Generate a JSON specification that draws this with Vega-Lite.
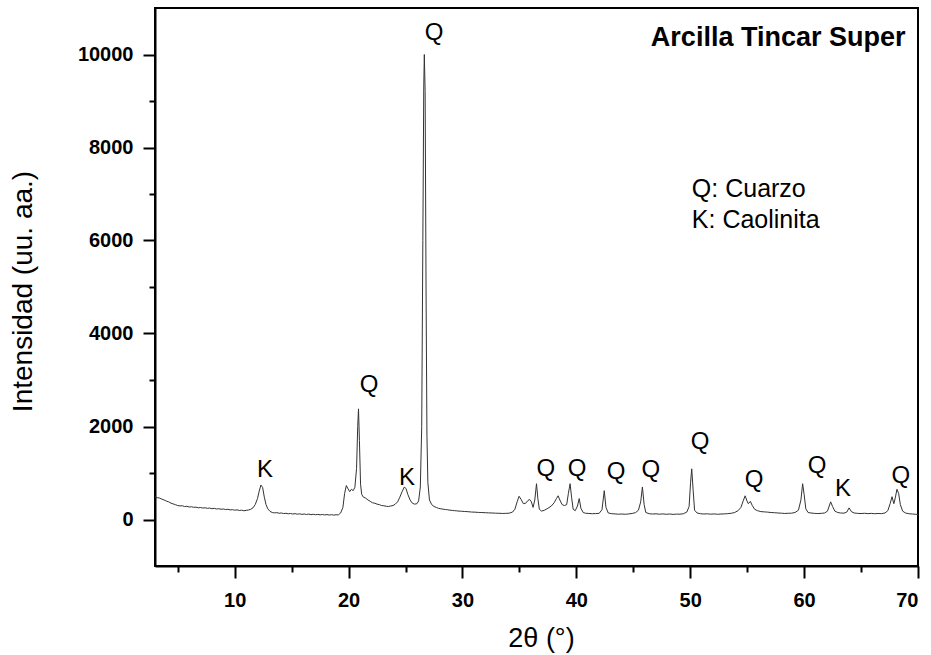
{
  "$schema": "https://vega.github.io/schema/vega-lite/v6.json",
  "width": 763,
  "height": 558,
  "autosize": {"type": "none"},
  "padding": {"left": 155, "top": 8, "right": 13, "bottom": 89},
  "background": "white",
  "config": {
    "view": {"stroke": "black", "strokeWidth": 2},
    "font": "Liberation Sans",
    "axis": {
      "grid": false,
      "domainColor": "black",
      "domainWidth": 2,
      "tickColor": "black",
      "tickWidth": 2,
      "labelFont": "Liberation Sans",
      "labelFontWeight": "bold",
      "labelFontSize": 20,
      "labelColor": "black",
      "titleFont": "Liberation Sans",
      "titleFontWeight": "normal",
      "titleFontSize": 28,
      "titleColor": "black"
    }
  },
  "datasets": {
    "xrd": [
      {"theta": 3.0, "intensity": 485}, {"theta": 3.2, "intensity": 470}, {"theta": 3.4, "intensity": 462}, {"theta": 3.6, "intensity": 438},
      {"theta": 3.8, "intensity": 420}, {"theta": 4.0, "intensity": 395}, {"theta": 4.2, "intensity": 380}, {"theta": 4.4, "intensity": 352},
      {"theta": 4.6, "intensity": 335}, {"theta": 4.8, "intensity": 318}, {"theta": 5.0, "intensity": 300}, {"theta": 5.2, "intensity": 292},
      {"theta": 5.4, "intensity": 296}, {"theta": 5.6, "intensity": 278}, {"theta": 5.8, "intensity": 284}, {"theta": 6.0, "intensity": 268},
      {"theta": 6.2, "intensity": 274}, {"theta": 6.4, "intensity": 262}, {"theta": 6.6, "intensity": 266}, {"theta": 6.8, "intensity": 252},
      {"theta": 7.0, "intensity": 258}, {"theta": 7.2, "intensity": 246}, {"theta": 7.4, "intensity": 252}, {"theta": 7.6, "intensity": 240},
      {"theta": 7.8, "intensity": 246}, {"theta": 8.0, "intensity": 232}, {"theta": 8.2, "intensity": 240}, {"theta": 8.4, "intensity": 226},
      {"theta": 8.6, "intensity": 232}, {"theta": 8.8, "intensity": 220}, {"theta": 9.0, "intensity": 226}, {"theta": 9.2, "intensity": 214},
      {"theta": 9.4, "intensity": 220}, {"theta": 9.6, "intensity": 206}, {"theta": 9.8, "intensity": 212}, {"theta": 10.0, "intensity": 200},
      {"theta": 10.2, "intensity": 208}, {"theta": 10.4, "intensity": 194}, {"theta": 10.6, "intensity": 200}, {"theta": 10.8, "intensity": 188},
      {"theta": 11.0, "intensity": 196}, {"theta": 11.2, "intensity": 204}, {"theta": 11.4, "intensity": 218}, {"theta": 11.6, "intensity": 250},
      {"theta": 11.8, "intensity": 320}, {"theta": 12.0, "intensity": 450}, {"theta": 12.15, "intensity": 610}, {"theta": 12.3, "intensity": 740},
      {"theta": 12.45, "intensity": 690}, {"theta": 12.6, "intensity": 480}, {"theta": 12.75, "intensity": 320}, {"theta": 12.9, "intensity": 230},
      {"theta": 13.1, "intensity": 175}, {"theta": 13.3, "intensity": 150}, {"theta": 13.5, "intensity": 142}, {"theta": 13.7, "intensity": 148},
      {"theta": 13.9, "intensity": 134}, {"theta": 14.1, "intensity": 140}, {"theta": 14.3, "intensity": 128}, {"theta": 14.5, "intensity": 134},
      {"theta": 14.7, "intensity": 122}, {"theta": 14.9, "intensity": 130}, {"theta": 15.1, "intensity": 118}, {"theta": 15.3, "intensity": 126},
      {"theta": 15.5, "intensity": 114}, {"theta": 15.7, "intensity": 122}, {"theta": 15.9, "intensity": 110}, {"theta": 16.1, "intensity": 118},
      {"theta": 16.3, "intensity": 108}, {"theta": 16.5, "intensity": 116}, {"theta": 16.7, "intensity": 104}, {"theta": 16.9, "intensity": 112},
      {"theta": 17.1, "intensity": 102}, {"theta": 17.3, "intensity": 110}, {"theta": 17.5, "intensity": 100}, {"theta": 17.7, "intensity": 108},
      {"theta": 17.9, "intensity": 98}, {"theta": 18.1, "intensity": 106}, {"theta": 18.3, "intensity": 96}, {"theta": 18.5, "intensity": 104},
      {"theta": 18.7, "intensity": 94}, {"theta": 18.9, "intensity": 102}, {"theta": 19.1, "intensity": 100}, {"theta": 19.3, "intensity": 140},
      {"theta": 19.5, "intensity": 260}, {"theta": 19.65, "intensity": 560}, {"theta": 19.8, "intensity": 730}, {"theta": 19.95, "intensity": 660},
      {"theta": 20.1, "intensity": 600}, {"theta": 20.25, "intensity": 650}, {"theta": 20.4, "intensity": 620}, {"theta": 20.55, "intensity": 690},
      {"theta": 20.7, "intensity": 1100}, {"theta": 20.8, "intensity": 2000}, {"theta": 20.87, "intensity": 2380}, {"theta": 20.95, "intensity": 1700},
      {"theta": 21.05, "intensity": 760}, {"theta": 21.15, "intensity": 540}, {"theta": 21.3, "intensity": 480}, {"theta": 21.5, "intensity": 460},
      {"theta": 21.7, "intensity": 420}, {"theta": 21.9, "intensity": 390}, {"theta": 22.1, "intensity": 360}, {"theta": 22.3, "intensity": 350},
      {"theta": 22.5, "intensity": 330}, {"theta": 22.7, "intensity": 320}, {"theta": 22.9, "intensity": 300}, {"theta": 23.1, "intensity": 296},
      {"theta": 23.3, "intensity": 284}, {"theta": 23.5, "intensity": 280}, {"theta": 23.7, "intensity": 290}, {"theta": 23.9, "intensity": 300},
      {"theta": 24.1, "intensity": 330}, {"theta": 24.3, "intensity": 380}, {"theta": 24.5, "intensity": 480}, {"theta": 24.7, "intensity": 600},
      {"theta": 24.9, "intensity": 700}, {"theta": 25.05, "intensity": 660}, {"theta": 25.2, "intensity": 540}, {"theta": 25.4, "intensity": 420},
      {"theta": 25.6, "intensity": 350}, {"theta": 25.8, "intensity": 330}, {"theta": 26.0, "intensity": 340}, {"theta": 26.15, "intensity": 400},
      {"theta": 26.3, "intensity": 700}, {"theta": 26.42, "intensity": 2000}, {"theta": 26.52, "intensity": 6000}, {"theta": 26.6, "intensity": 9300},
      {"theta": 26.65, "intensity": 10000}, {"theta": 26.72, "intensity": 9200}, {"theta": 26.8, "intensity": 5000}, {"theta": 26.88, "intensity": 1800},
      {"theta": 26.96, "intensity": 800}, {"theta": 27.1, "intensity": 420}, {"theta": 27.3, "intensity": 320}, {"theta": 27.5, "intensity": 280},
      {"theta": 27.7, "intensity": 260}, {"theta": 27.9, "intensity": 240}, {"theta": 28.1, "intensity": 230}, {"theta": 28.3, "intensity": 222},
      {"theta": 28.5, "intensity": 214}, {"theta": 28.7, "intensity": 210}, {"theta": 28.9, "intensity": 200}, {"theta": 29.1, "intensity": 196},
      {"theta": 29.3, "intensity": 190}, {"theta": 29.5, "intensity": 186}, {"theta": 29.7, "intensity": 180}, {"theta": 29.9, "intensity": 178},
      {"theta": 30.2, "intensity": 172}, {"theta": 30.5, "intensity": 168}, {"theta": 30.8, "intensity": 160}, {"theta": 31.1, "intensity": 158},
      {"theta": 31.4, "intensity": 152}, {"theta": 31.7, "intensity": 150}, {"theta": 32.0, "intensity": 146}, {"theta": 32.3, "intensity": 142},
      {"theta": 32.6, "intensity": 140}, {"theta": 32.9, "intensity": 136}, {"theta": 33.2, "intensity": 134}, {"theta": 33.5, "intensity": 130},
      {"theta": 33.8, "intensity": 132}, {"theta": 34.1, "intensity": 136}, {"theta": 34.4, "intensity": 160}, {"theta": 34.6, "intensity": 220},
      {"theta": 34.8, "intensity": 380}, {"theta": 34.97, "intensity": 500}, {"theta": 35.15, "intensity": 430}, {"theta": 35.35, "intensity": 340},
      {"theta": 35.55, "intensity": 350}, {"theta": 35.75, "intensity": 410}, {"theta": 35.9, "intensity": 430}, {"theta": 36.05, "intensity": 380},
      {"theta": 36.2, "intensity": 260}, {"theta": 36.35, "intensity": 420}, {"theta": 36.5, "intensity": 770}, {"theta": 36.62, "intensity": 450},
      {"theta": 36.75, "intensity": 220}, {"theta": 36.95, "intensity": 180}, {"theta": 37.2, "intensity": 200}, {"theta": 37.5, "intensity": 240},
      {"theta": 37.8, "intensity": 290}, {"theta": 38.05, "intensity": 360}, {"theta": 38.25, "intensity": 450}, {"theta": 38.4, "intensity": 510},
      {"theta": 38.55, "intensity": 420}, {"theta": 38.75, "intensity": 320}, {"theta": 38.95, "intensity": 300}, {"theta": 39.15, "intensity": 320},
      {"theta": 39.3, "intensity": 560}, {"theta": 39.45, "intensity": 770}, {"theta": 39.58, "intensity": 480}, {"theta": 39.72, "intensity": 220},
      {"theta": 39.9, "intensity": 190}, {"theta": 40.1, "intensity": 290}, {"theta": 40.25, "intensity": 450}, {"theta": 40.4, "intensity": 240},
      {"theta": 40.6, "intensity": 150}, {"theta": 40.8, "intensity": 135}, {"theta": 41.1, "intensity": 130}, {"theta": 41.4, "intensity": 124},
      {"theta": 41.7, "intensity": 128}, {"theta": 42.0, "intensity": 132}, {"theta": 42.25, "intensity": 210}, {"theta": 42.45, "intensity": 620},
      {"theta": 42.6, "intensity": 260}, {"theta": 42.8, "intensity": 140}, {"theta": 43.1, "intensity": 125}, {"theta": 43.4, "intensity": 120},
      {"theta": 43.7, "intensity": 114}, {"theta": 44.0, "intensity": 118}, {"theta": 44.3, "intensity": 112}, {"theta": 44.6, "intensity": 120},
      {"theta": 44.9, "intensity": 130}, {"theta": 45.2, "intensity": 148}, {"theta": 45.45, "intensity": 200}, {"theta": 45.65, "intensity": 380},
      {"theta": 45.8, "intensity": 700}, {"theta": 45.95, "intensity": 320}, {"theta": 46.1, "intensity": 150}, {"theta": 46.4, "intensity": 124},
      {"theta": 46.7, "intensity": 118}, {"theta": 47.0, "intensity": 122}, {"theta": 47.3, "intensity": 114}, {"theta": 47.6, "intensity": 120},
      {"theta": 47.9, "intensity": 112}, {"theta": 48.2, "intensity": 118}, {"theta": 48.5, "intensity": 110}, {"theta": 48.8, "intensity": 116},
      {"theta": 49.1, "intensity": 114}, {"theta": 49.4, "intensity": 124}, {"theta": 49.7, "intensity": 160}, {"theta": 49.9, "intensity": 280},
      {"theta": 50.03, "intensity": 800}, {"theta": 50.13, "intensity": 1090}, {"theta": 50.25, "intensity": 650}, {"theta": 50.38, "intensity": 200},
      {"theta": 50.6, "intensity": 140}, {"theta": 50.9, "intensity": 124}, {"theta": 51.2, "intensity": 118}, {"theta": 51.5, "intensity": 122},
      {"theta": 51.8, "intensity": 114}, {"theta": 52.1, "intensity": 120}, {"theta": 52.4, "intensity": 112}, {"theta": 52.7, "intensity": 118},
      {"theta": 53.0, "intensity": 120}, {"theta": 53.3, "intensity": 126}, {"theta": 53.6, "intensity": 134}, {"theta": 53.9, "intensity": 150},
      {"theta": 54.2, "intensity": 190}, {"theta": 54.45, "intensity": 260}, {"theta": 54.65, "intensity": 400}, {"theta": 54.82, "intensity": 510},
      {"theta": 54.98, "intensity": 400}, {"theta": 55.1, "intensity": 340}, {"theta": 55.28, "intensity": 390}, {"theta": 55.45, "intensity": 300},
      {"theta": 55.65, "intensity": 220}, {"theta": 55.9, "intensity": 190}, {"theta": 56.2, "intensity": 170}, {"theta": 56.5, "intensity": 164},
      {"theta": 56.8, "intensity": 158}, {"theta": 57.1, "intensity": 150}, {"theta": 57.4, "intensity": 146}, {"theta": 57.7, "intensity": 140},
      {"theta": 58.0, "intensity": 136}, {"theta": 58.3, "intensity": 130}, {"theta": 58.6, "intensity": 134}, {"theta": 58.9, "intensity": 136},
      {"theta": 59.2, "intensity": 150}, {"theta": 59.5, "intensity": 200}, {"theta": 59.72, "intensity": 420}, {"theta": 59.87, "intensity": 770},
      {"theta": 60.0, "intensity": 540}, {"theta": 60.15, "intensity": 230}, {"theta": 60.35, "intensity": 150}, {"theta": 60.6, "intensity": 140},
      {"theta": 60.9, "intensity": 132}, {"theta": 61.2, "intensity": 128}, {"theta": 61.5, "intensity": 132}, {"theta": 61.8, "intensity": 140},
      {"theta": 62.05, "intensity": 180}, {"theta": 62.33, "intensity": 380}, {"theta": 62.5, "intensity": 280}, {"theta": 62.7, "intensity": 180},
      {"theta": 62.95, "intensity": 150}, {"theta": 63.2, "intensity": 140}, {"theta": 63.5, "intensity": 136}, {"theta": 63.75, "intensity": 160},
      {"theta": 63.95, "intensity": 250}, {"theta": 64.15, "intensity": 170}, {"theta": 64.4, "intensity": 140}, {"theta": 64.7, "intensity": 132},
      {"theta": 65.0, "intensity": 128}, {"theta": 65.3, "intensity": 134}, {"theta": 65.6, "intensity": 126}, {"theta": 65.9, "intensity": 132},
      {"theta": 66.2, "intensity": 124}, {"theta": 66.5, "intensity": 130}, {"theta": 66.8, "intensity": 126}, {"theta": 67.1, "intensity": 140},
      {"theta": 67.35, "intensity": 190}, {"theta": 67.55, "intensity": 340}, {"theta": 67.72, "intensity": 490}, {"theta": 67.88, "intensity": 340},
      {"theta": 68.02, "intensity": 480}, {"theta": 68.15, "intensity": 650}, {"theta": 68.3, "intensity": 560}, {"theta": 68.45, "intensity": 320},
      {"theta": 68.65, "intensity": 180}, {"theta": 68.9, "intensity": 140}, {"theta": 69.2, "intensity": 124}, {"theta": 69.5, "intensity": 118},
      {"theta": 69.8, "intensity": 112}, {"theta": 70.0, "intensity": 110}
    ],
    "peaks": [
      {"x": 12.66, "y": 1065, "label": "K"},
      {"x": 21.79, "y": 2893, "label": "Q"},
      {"x": 25.13, "y": 893, "label": "K"},
      {"x": 27.5, "y": 10462, "label": "Q"},
      {"x": 37.33, "y": 1086, "label": "Q"},
      {"x": 40.06, "y": 1086, "label": "Q"},
      {"x": 43.48, "y": 1022, "label": "Q"},
      {"x": 46.55, "y": 1065, "label": "Q"},
      {"x": 50.86, "y": 1667, "label": "Q"},
      {"x": 55.6, "y": 850, "label": "Q"},
      {"x": 61.13, "y": 1151, "label": "Q"},
      {"x": 63.41, "y": 656, "label": "K"},
      {"x": 68.5, "y": 936, "label": "Q"}
    ]
  },
  "layer": [
    {
      "data": {"name": "xrd"},
      "mark": {"type": "line", "color": "#333333", "strokeWidth": 1, "clip": true},
      "encoding": {
        "x": {
          "field": "theta", "type": "quantitative",
          "scale": {"domain": [3, 70], "nice": false, "zero": false},
          "axis": {
            "title": "2θ (°)",
            "titleFontSize": 27,
            "values": [5, 10, 15, 20, 25, 30, 35, 40, 45, 50, 55, 60, 65, 70],
            "labelExpr": "datum.value % 10 === 0 ? datum.label : ''",
            "tickSize": {"condition": {"test": "datum.value % 10 === 0", "value": 12}, "value": 6},
            "labelPadding": 12,
            "titleX": 386, "titleY": 72, "titleAlign": "center", "titleBaseline": "middle"
          }
        },
        "y": {
          "field": "intensity", "type": "quantitative",
          "scale": {"domain": [-1000, 11000], "nice": false, "zero": false},
          "axis": {
            "title": "Intensidad (uu. aa.)",
            "format": "d",
            "values": [0, 1000, 2000, 3000, 4000, 5000, 6000, 7000, 8000, 9000, 10000],
            "labelExpr": "datum.value % 2000 === 0 ? datum.label : ''",
            "tickSize": {"condition": {"test": "datum.value % 2000 === 0", "value": 12}, "value": 6},
            "labelPadding": 10,
            "titleX": -132, "titleY": 283, "titleAngle": -90, "titleAlign": "center", "titleBaseline": "middle"
          }
        }
      }
    },
    {
      "data": {"name": "peaks"},
      "mark": {"type": "text", "fontSize": 24, "font": "Liberation Sans", "color": "black", "baseline": "middle", "align": "center"},
      "encoding": {
        "x": {"field": "x", "type": "quantitative"},
        "y": {"field": "y", "type": "quantitative"},
        "text": {"field": "label"}
      }
    },
    {
      "data": {"values": [{}]},
      "mark": {"type": "text", "fontSize": 27, "fontWeight": "bold", "font": "Liberation Sans", "color": "black", "align": "right", "baseline": "alphabetic"},
      "encoding": {"x": {"datum": 68.9}, "y": {"datum": 10182}, "text": {"value": "Arcilla Tincar Super"}}
    },
    {
      "data": {"values": [{}]},
      "mark": {"type": "text", "fontSize": 25, "font": "Liberation Sans", "color": "black", "align": "left", "baseline": "alphabetic"},
      "encoding": {"x": {"datum": 50.14}, "y": {"datum": 6943}, "text": {"value": "Q: Cuarzo"}}
    },
    {
      "data": {"values": [{}]},
      "mark": {"type": "text", "fontSize": 25, "font": "Liberation Sans", "color": "black", "align": "left", "baseline": "alphabetic"},
      "encoding": {"x": {"datum": 50.14}, "y": {"datum": 6269}, "text": {"value": "K: Caolinita"}}
    }
  ]
}
